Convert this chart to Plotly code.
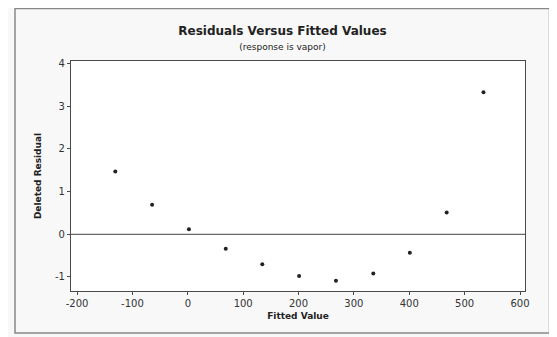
import plotly.graph_objects as go

fitted = [-131, -64.5, 2, 68.5, 134.5, 201, 267.5, 335, 401, 467.5, 534]
deleted_resid = [1.47, 0.69, 0.12, -0.34, -0.70, -0.98, -1.09, -0.92, -0.43, 0.51, 3.33]

x_ticks = [-200, -100, 0, 100, 200, 300, 400, 500, 600]
y_ticks = [-1, 0, 1, 2, 3, 4]

font_family = "DejaVu Sans"
axis_color = "#4a4a4a"

# page body has an 8px margin, so the figure is sized to fill the rest of the window
W, H = 549, 329
L, R, T, B = 63, 32, 53, 46
PW, PH = W - L - R, H - T - B

fig = go.Figure()
fig.add_trace(go.Scatter(
    x=fitted, y=deleted_resid, mode="markers",
    marker=dict(size=4, color="#222222"),
    showlegend=False,
))

fig.update_layout(
    width=W, height=H,
    margin=dict(l=L, r=R, t=T, b=B),
    paper_bgcolor="#f8f8f8",
    plot_bgcolor="white",
    font=dict(family=font_family, size=10, color="#333333"),
    title=dict(
        text="<b>Residuals Versus Fitted Values</b><br><span style='font-size:9px;font-weight:normal'>(response is vapor)</span>",
        x=(282.5 - 8) / W, xanchor="center", y=0.9185, yanchor="middle",
        font=dict(family=font_family, size=12, color="#222222"),
    ),
)

fig.add_shape(
    type="rect", xref="paper", yref="paper",
    x0=(7 - L) / PW, x1=(541.5 - L) / PW, y0=(4 - B) / PH, y1=(H - 0.5 - B) / PH,
    line=dict(color="#888888", width=1.5), layer="above",
)
fig.add_hline(y=0, line=dict(color="#444444", width=1))

fig.update_xaxes(
    range=[-211, 609], tickvals=x_ticks, ticktext=[str(v) for v in x_ticks],
    showgrid=False, zeroline=False, showline=True, mirror=True,
    linecolor=axis_color, linewidth=1.2, ticks="outside", ticklen=3,
    tickcolor=axis_color, tickfont=dict(size=10),
    title=dict(text="<b>Fitted Value</b>", font=dict(size=9, color="#222222"), standoff=4),
)
fig.update_yaxes(
    range=[-1.329, 4.062], tickvals=y_ticks, ticktext=[str(v) for v in y_ticks],
    showgrid=False, zeroline=False, showline=True, mirror=True,
    linecolor=axis_color, linewidth=1.2, ticks="outside", ticklen=3,
    tickcolor=axis_color, tickfont=dict(size=10),
    title=dict(text="<b>Deleted Residual</b>", font=dict(size=9, color="#222222"), standoff=11),
)

fig.write_html("out.html")
